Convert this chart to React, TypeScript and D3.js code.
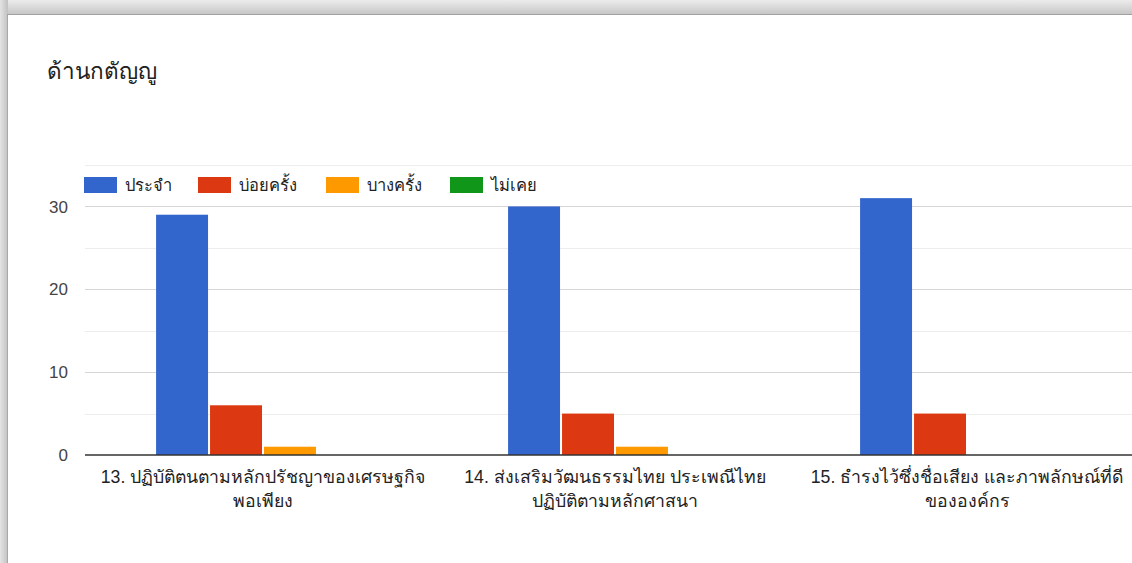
import React from "react";
import * as d3 from "d3";

const title = "ด้านกตัญญู";
const categories = [
  ["13. ปฏิบัติตนตามหลักปรัชญาของเศรษฐกิจ", "พอเพียง"],
  ["14. ส่งเสริมวัฒนธรรมไทย ประเพณีไทย", "ปฏิบัติตามหลักศาสนา"],
  ["15. ธำรงไว้ซึ่งชื่อเสียง และภาพลักษณ์ที่ดี", "ขององค์กร"],
];
const seriesNames = ["ประจำ", "บ่อยครั้ง", "บางครั้ง", "ไม่เคย"];
const seriesColors = ["#3366cc", "#dc3912", "#ff9900", "#109618"];
const valuesPrachum = [29, 30, 31];
const valuesBoi = [6, 5, 5];
const valuesBang = [1, 1, 0];
const valuesMaiKoey = [0, 0, 0];
const seriesValues = [valuesPrachum, valuesBoi, valuesBang, valuesMaiKoey];
const yTicks = [0, 10, 20, 30];
const yMinorTicks = [5, 15, 25, 35];

const W = 1132;
const H = 563;
const FONT = "'Liberation Sans', Arial, Roboto, 'Noto Sans', sans-serif";

export default function App() {
  const plotLeft = 85;
  const plotRight = 1143;
  const plotBottom = 455;
  const y = d3.scaleLinear().domain([0, 35]).range([plotBottom, 165]);
  const catIdx = categories.map((_, i) => String(i));
  const x0 = d3.scaleBand<string>().domain(catIdx).range([plotLeft + 2, plotRight]).paddingInner(0).paddingOuter(0);
  const x1 = d3
    .scaleBand<string>()
    .domain(seriesNames)
    .range([0, x0.bandwidth()])
    .paddingInner(0.037)
    .paddingOuter(1.28);

  const legendX = [84, 198, 326, 450];

  return (
    <svg
      width={W}
      height={H}
      style={{ position: "fixed", left: 0, top: 0, display: "block", background: "#fff" }}
      fontFamily={FONT}
    >
      <defs>
        <linearGradient id="topband" x1="0" y1="0" x2="0" y2="1">
          <stop offset="0" stopColor="#ececec" />
          <stop offset="1" stopColor="#c4c4c4" />
        </linearGradient>
        <linearGradient id="leftband" x1="0" y1="0" x2="1" y2="0">
          <stop offset="0" stopColor="#e4e4e4" />
          <stop offset="1" stopColor="#c0c0c0" />
        </linearGradient>
      </defs>
      <rect x={0} y={0} width={W} height={H} fill="#fff" />
      <rect x={0} y={0} width={W} height={15} fill="url(#topband)" />
      <rect x={0} y={0} width={8} height={H} fill="url(#leftband)" />
      <line x1={7.5} y1={14} x2={7.5} y2={H} stroke="#a8a8a8" />
      <line x1={7} y1={14.5} x2={W} y2={14.5} stroke="#a0a0a0" />

      <text x={47} y={79} fontSize={22.5} fill="#212121">
        {title}
      </text>

      {yMinorTicks.map((t) => (
        <line key={"m" + t} x1={plotLeft} x2={W} y1={Math.round(y(t)) + 0.5} y2={Math.round(y(t)) + 0.5} stroke="#ededed" />
      ))}
      {yTicks.map((t) => (
        <g key={"t" + t}>
          {t !== 0 && (
            <line x1={plotLeft} x2={W} y1={Math.round(y(t)) + 0.5} y2={Math.round(y(t)) + 0.5} stroke="#d6d6d6" />
          )}
          <text x={68} y={y(t)} dy="0.36em" textAnchor="end" fontSize={17} fill="#444">
            {t}
          </text>
        </g>
      ))}

      {categories.map((cat, ci) =>
        seriesNames.map((s, si) => {
          const v = seriesValues[si][ci];
          if (v <= 0) return null;
          return (
            <rect
              key={ci + "-" + si}
              x={(x0(String(ci)) as number) + (x1(s) as number)}
              y={y(v)}
              width={x1.bandwidth()}
              height={plotBottom - y(v)}
              fill={seriesColors[si]}
            />
          );
        })
      )}

      <line x1={plotLeft} x2={W} y1={plotBottom} y2={plotBottom} stroke="#333" strokeWidth={1.3} />

      {categories.map((cat, ci) => {
        const cx = (x0(String(ci)) as number) + x0.bandwidth() / 2;
        return (
          <text key={"c" + ci} textAnchor="middle" fontSize={17.7} fill="#222">
            {cat.map((line, li) => (
              <tspan key={li} x={cx} y={483 + li * 24}>
                {line}
              </tspan>
            ))}
          </text>
        );
      })}

      {seriesNames.map((s, si) => (
        <g key={"l" + si}>
          <rect x={legendX[si]} y={177} width={33} height={16} fill={seriesColors[si]} />
          <text x={legendX[si] + 41} y={191} fontSize={16.5} fill="#222">
            {s}
          </text>
        </g>
      ))}
    </svg>
  );
}
